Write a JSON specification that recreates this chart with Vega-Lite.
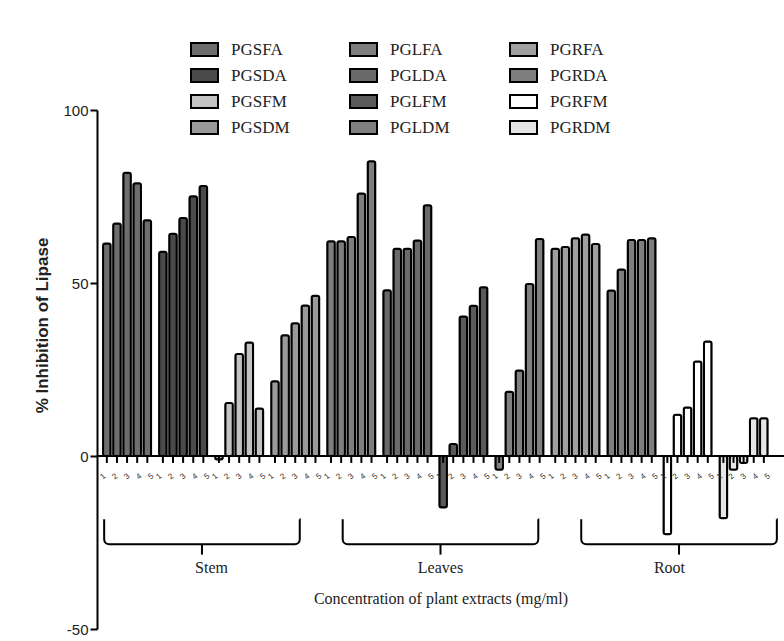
{
  "$schema": "https://vega.github.io/schema/vega-lite/v6.json",
  "width": 687,
  "height": 519,
  "autosize": {"type": "none"},
  "padding": {"left": 97, "top": 110, "right": 0, "bottom": 12},
  "background": "white",
  "config": {"view": {"stroke": null}, "font": "Liberation Sans"},
  "datasets": {
    "bars": [
      {"part": "Stem", "series": "PGSFA", "conc": 1, "value": 61.4},
      {"part": "Stem", "series": "PGSFA", "conc": 2, "value": 67.2},
      {"part": "Stem", "series": "PGSFA", "conc": 3, "value": 81.9},
      {"part": "Stem", "series": "PGSFA", "conc": 4, "value": 78.8},
      {"part": "Stem", "series": "PGSFA", "conc": 5, "value": 68.1},
      {"part": "Stem", "series": "PGSDA", "conc": 1, "value": 59.0},
      {"part": "Stem", "series": "PGSDA", "conc": 2, "value": 64.2},
      {"part": "Stem", "series": "PGSDA", "conc": 3, "value": 68.8},
      {"part": "Stem", "series": "PGSDA", "conc": 4, "value": 75.1},
      {"part": "Stem", "series": "PGSDA", "conc": 5, "value": 78.0},
      {"part": "Stem", "series": "PGSFM", "conc": 1, "value": -1.0},
      {"part": "Stem", "series": "PGSFM", "conc": 2, "value": 15.3},
      {"part": "Stem", "series": "PGSFM", "conc": 3, "value": 29.5},
      {"part": "Stem", "series": "PGSFM", "conc": 4, "value": 32.8},
      {"part": "Stem", "series": "PGSFM", "conc": 5, "value": 13.7},
      {"part": "Stem", "series": "PGSDM", "conc": 1, "value": 21.6},
      {"part": "Stem", "series": "PGSDM", "conc": 2, "value": 34.9},
      {"part": "Stem", "series": "PGSDM", "conc": 3, "value": 38.4},
      {"part": "Stem", "series": "PGSDM", "conc": 4, "value": 43.5},
      {"part": "Stem", "series": "PGSDM", "conc": 5, "value": 46.3},
      {"part": "Leaves", "series": "PGLFA", "conc": 1, "value": 62.1},
      {"part": "Leaves", "series": "PGLFA", "conc": 2, "value": 62.1},
      {"part": "Leaves", "series": "PGLFA", "conc": 3, "value": 63.3},
      {"part": "Leaves", "series": "PGLFA", "conc": 4, "value": 75.9},
      {"part": "Leaves", "series": "PGLFA", "conc": 5, "value": 85.2},
      {"part": "Leaves", "series": "PGLDA", "conc": 1, "value": 47.9},
      {"part": "Leaves", "series": "PGLDA", "conc": 2, "value": 59.9},
      {"part": "Leaves", "series": "PGLDA", "conc": 3, "value": 59.9},
      {"part": "Leaves", "series": "PGLDA", "conc": 4, "value": 62.3},
      {"part": "Leaves", "series": "PGLDA", "conc": 5, "value": 72.5},
      {"part": "Leaves", "series": "PGLFM", "conc": 1, "value": -14.9},
      {"part": "Leaves", "series": "PGLFM", "conc": 2, "value": 3.5},
      {"part": "Leaves", "series": "PGLFM", "conc": 3, "value": 40.3},
      {"part": "Leaves", "series": "PGLFM", "conc": 4, "value": 43.4},
      {"part": "Leaves", "series": "PGLFM", "conc": 5, "value": 48.8},
      {"part": "Leaves", "series": "PGLDM", "conc": 1, "value": -4.0},
      {"part": "Leaves", "series": "PGLDM", "conc": 2, "value": 18.6},
      {"part": "Leaves", "series": "PGLDM", "conc": 3, "value": 24.7},
      {"part": "Leaves", "series": "PGLDM", "conc": 4, "value": 49.7},
      {"part": "Leaves", "series": "PGLDM", "conc": 5, "value": 62.7},
      {"part": "Root", "series": "PGRFA", "conc": 1, "value": 59.9},
      {"part": "Root", "series": "PGRFA", "conc": 2, "value": 60.4},
      {"part": "Root", "series": "PGRFA", "conc": 3, "value": 62.9},
      {"part": "Root", "series": "PGRFA", "conc": 4, "value": 64.0},
      {"part": "Root", "series": "PGRFA", "conc": 5, "value": 61.3},
      {"part": "Root", "series": "PGRDA", "conc": 1, "value": 47.8},
      {"part": "Root", "series": "PGRDA", "conc": 2, "value": 53.9},
      {"part": "Root", "series": "PGRDA", "conc": 3, "value": 62.4},
      {"part": "Root", "series": "PGRDA", "conc": 4, "value": 62.4},
      {"part": "Root", "series": "PGRDA", "conc": 5, "value": 62.9},
      {"part": "Root", "series": "PGRFM", "conc": 1, "value": -22.6},
      {"part": "Root", "series": "PGRFM", "conc": 2, "value": 11.9},
      {"part": "Root", "series": "PGRFM", "conc": 3, "value": 14.0},
      {"part": "Root", "series": "PGRFM", "conc": 4, "value": 27.3},
      {"part": "Root", "series": "PGRFM", "conc": 5, "value": 33.1},
      {"part": "Root", "series": "PGRDM", "conc": 1, "value": -18.0},
      {"part": "Root", "series": "PGRDM", "conc": 2, "value": -4.0},
      {"part": "Root", "series": "PGRDM", "conc": 3, "value": -2.0},
      {"part": "Root", "series": "PGRDM", "conc": 4, "value": 10.9},
      {"part": "Root", "series": "PGRDM", "conc": 5, "value": 10.9}
    ],
    "parts": [{"part": "Stem"}, {"part": "Leaves"}, {"part": "Root"}]
  },
  "layer": [
    {
      "data": {"name": "bars"},
      "mark": {"type": "bar", "stroke": "black", "strokeWidth": 2, "cornerRadius": 2},
      "encoding": {
        "x": {"field": "series", "type": "nominal", "sort": ["PGSFA","PGSDA","PGSFM","PGSDM","PGLFA","PGLDA","PGLFM","PGLDM","PGRFA","PGRDA","PGRFM","PGRDM"],
              "scale": {"paddingInner": 0.143, "paddingOuter": 0.2, "align": 0.27}, "axis": null},
        "xOffset": {"field": "conc", "type": "ordinal", "scale": {"paddingInner": 0.25, "paddingOuter": 0}},
        "y": {"field": "value", "type": "quantitative", "scale": {"domain": [-50, 100], "nice": false},
              "axis": {"values": [-50, 0, 50, 100], "title": "% Inhibition of Lipase", "titleFont": "Liberation Sans",
                       "titleFontSize": 17, "titleFontWeight": "bold", "titleColor": "#222", "titleX": -55, "titleY": 215,
                       "titleBaseline": "middle", "labelFont": "Liberation Sans", "labelFontSize": 15, "labelColor": "#222",
                       "labelExpr": "replace(datum.label, '\u2212', '-')",
                       "labelPadding": 2, "tickColor": "black", "tickWidth": 2, "tickSize": 7, "domainColor": "black",
                       "domainWidth": 2, "grid": false}},
        "fill": {"field": "series", "type": "nominal",
                 "scale": {"domain": ["PGSFA","PGSDA","PGSFM","PGSDM","PGLFA","PGLDA","PGLFM","PGLDM","PGRFA","PGRDA","PGRFM","PGRDM"],
                           "range": ["#6e6e6e","#4a4a4a","#c4c4c4","#9a9a9a","#7e7e7e","#6a6a6a","#5a5a5a","#808080","#a0a0a0","#7e7e7e","#ffffff","#e6e6e6"]},
                 "legend": {"orient": "none", "legendX": 93, "legendY": -75, "columns": 3, "title": null,
                            "symbolType": "M-1,-0.48H1V0.48H-1Z", "symbolSize": 729, "symbolStrokeColor": "black",
                            "symbolStrokeWidth": 2, "symbolOpacity": 1, "labelFont": "Liberation Serif", "labelFontSize": 17,
                            "labelColor": "#222", "labelOffset": 12, "rowPadding": 1, "columnPadding": 56}}
      }
    },
    {
      "data": {"name": "bars"},
      "mark": {"type": "rule", "color": "black", "strokeWidth": 2},
      "encoding": {
        "x": {"field": "series", "type": "nominal", "sort": ["PGSFA","PGSDA","PGSFM","PGSDM","PGLFA","PGLDA","PGLFM","PGLDM","PGRFA","PGRDA","PGRFM","PGRDM"],
              "scale": {"paddingInner": 0.143, "paddingOuter": 0.2, "align": 0.27}, "axis": null},
        "xOffset": {"field": "conc", "type": "ordinal", "scale": {"paddingInner": 0.25, "paddingOuter": 0}},
        "y": {"datum": 0, "scale": {"domain": [-50, 100], "nice": false}},
        "y2": {"datum": -2}
      }
    },
    {
      "data": {"name": "bars"},
      "mark": {"type": "text", "fontSize": 8, "angle": -40, "color": "#333", "baseline": "middle"},
      "encoding": {
        "x": {"field": "series", "type": "nominal", "sort": ["PGSFA","PGSDA","PGSFM","PGSDM","PGLFA","PGLDA","PGLFM","PGLDM","PGRFA","PGRDA","PGRFM","PGRDM"],
              "scale": {"paddingInner": 0.143, "paddingOuter": 0.2, "align": 0.27}, "axis": null},
        "xOffset": {"field": "conc", "type": "ordinal", "scale": {"paddingInner": 0.25, "paddingOuter": 0}},
        "y": {"datum": -6, "scale": {"domain": [-50, 100], "nice": false}},
        "text": {"field": "conc", "type": "ordinal"}
      }
    },
    {
      "data": {"values": [{}]},
      "mark": {"type": "rule", "color": "black", "strokeWidth": 2},
      "encoding": {"y": {"datum": 0, "scale": {"domain": [-50, 100], "nice": false}}}
    },
    {
      "data": {"name": "parts"},
      "mark": {"type": "bar", "fill": null, "fillOpacity": 0, "stroke": "black", "strokeWidth": 2,
               "cornerRadiusBottomLeft": 5, "cornerRadiusBottomRight": 5, "strokeDash": [0, 195.6, 1000, 0]},
      "encoding": {
        "x": {"field": "part", "type": "nominal", "sort": ["Stem", "Leaves", "Root"],
              "scale": {"paddingInner": 0.18, "paddingOuter": 0.03},
              "axis": {"title": "Concentration of plant extracts (mg/ml)", "domain": false, "ticks": false, "labels": false,
                       "titleFont": "Liberation Serif", "titleFontSize": 16, "titleFontWeight": "normal", "titleColor": "#222",
                       "titleY": -31, "titleBaseline": "middle"}},
        "y": {"datum": -18.3, "scale": {"domain": [-50, 100], "nice": false}},
        "y2": {"datum": -25.5}
      }
    },
    {
      "data": {"name": "parts"},
      "mark": {"type": "rule", "color": "black", "strokeWidth": 2},
      "encoding": {
        "x": {"field": "part", "type": "nominal", "sort": ["Stem", "Leaves", "Root"],
              "scale": {"paddingInner": 0.18, "paddingOuter": 0.03}, "axis": null},
        "y": {"datum": -25.5, "scale": {"domain": [-50, 100], "nice": false}},
        "y2": {"datum": -28.5}
      }
    },
    {
      "data": {"name": "parts"},
      "mark": {"type": "text", "font": "Liberation Serif", "fontSize": 16, "color": "#222", "baseline": "middle"},
      "encoding": {
        "x": {"field": "part", "type": "nominal", "sort": ["Stem", "Leaves", "Root"],
              "scale": {"paddingInner": 0.18, "paddingOuter": 0.03}, "axis": null},
        "y": {"datum": -32.5, "scale": {"domain": [-50, 100], "nice": false}},
        "text": {"field": "part"}
      }
    }
  ],
  "resolve": {"scale": {"x": "independent", "xOffset": "independent"}}
}
